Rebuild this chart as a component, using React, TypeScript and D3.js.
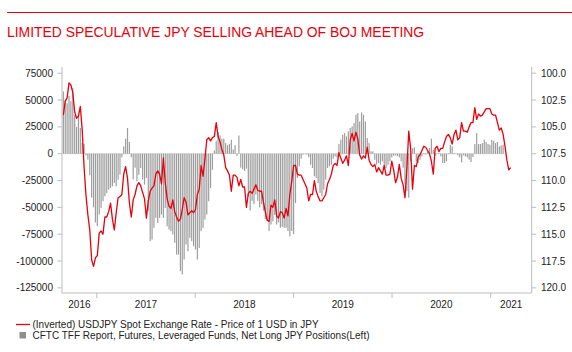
import React from "react";
import * as d3 from "d3";

// CFTC leveraged funds net long JPY (weekly, left axis)
const positions = [
  58000, 50000, 47000, 54000, 49000, 61000, 36000, 25000, 35000, 24000,
  10000, 9000, -1500, -5500, -20000, -41000, -50000, -64000, -67500, -56700,
  -50500, -44300, -39700, -36600, -33500, -32000, -30400, -27300, -30400, -24200,
  -19500, -3400, 6800, 14000, 24000, 11000, -3400, -24000, -13000, -25700,
  -19500, -13300, -24000, -28800, -22600, -53600, -81500, -80000, -69100, -59800,
  -64500, -59800, -56700, -59800, -50500, -67600, -70700, -72200, -75300, -83000,
  -94000, -94000, -109400, -112500, -98600, -84600, -90800, -78400, -81500, -86200,
  -89300, -98600, -87800, -72200, -69100, -61400, -56700, -44300, -32000, -15000,
  3000, 12000, 20000, 17000, 14000, 14000, 10000, 8000, 9000, 13000,
  4000, 8000, -2000, 17000, -13000, -14500, -16000, -14000, -40000, -53000,
  -44000, -47000, -38000, -44000, -50000, -47000, -53000, -61000, -62000, -72000,
  -66000, -63000, -57000, -66000, -64000, -69000, -68000, -69000, -69000, -72000,
  -77000, -72000, -75000, -46000, -22600, -11800, -4700, -900, 300, -900,
  -3400, -10200, -13300, -21000, -22600, -27300, -36600, -39700, -33500, -24200,
  -13300, -11800, -10200, -4700, -2500, -3400, 9000, 13000, 17700, 19200,
  16100, 20800, 23900, 25400, 28500, 36300, 37800, 30000, 38400, 36300,
  30000, 14600, 9900, 2200, 2200, -5600, -10200, -8700, -10200, -7100,
  -11800, -13300, -10200, -7100, -3400, -1900, -1500, -2200, -3400, -7100,
  -13000, -28000, -35000, -41000, -7000, 5000, 6000, -7000, -8700, -5600,
  -2500, 600, -900, 2200, 5300, 14000, 3700, -1500, -300, 600,
  -2500, -8700, -8700, -7100, 600, 8400, 6800, 600, -300, -1500,
  -3400, -8100, -1500, -2500, -3400, -5600, -7800, -3000, 9000, 19200,
  9000, 9000, 9900, 13000, 10900, 9000, 8400, 13000, 12100, 9900,
  10900, 6800, 7800, 8400,
];

// USDJPY spot (weekly, right axis, inverted)
const usdjpy = [
  103.9, 102.6, 102.3, 100.9, 101.1, 101.8, 103.6, 104.2, 104.0, 103.1,
  105.3, 108.8, 111.4, 113.2, 114.6, 117.4, 118.0, 117.2, 117.0, 114.9,
  114.7, 115.0, 113.4, 113.4, 112.9, 112.1, 113.6, 114.6, 113.0, 111.6,
  111.5, 111.3, 109.4, 108.7, 109.8, 112.1, 113.4, 111.8, 111.3, 110.5,
  110.2, 110.5, 111.1, 111.7, 113.5, 111.9, 111.0, 110.7, 110.5, 109.4,
  109.1, 109.4, 110.3, 107.9, 110.2, 111.7, 112.4, 112.6, 111.8, 112.9,
  113.4, 113.8, 113.6, 112.7, 111.6, 112.0, 113.2, 113.0, 112.8, 113.0,
  112.7, 111.3, 110.8, 108.6, 109.6, 108.0, 106.2, 106.0, 106.3, 106.0,
  105.9, 104.6, 105.9, 106.4, 107.1, 107.6, 108.8, 109.1, 109.5, 111.0,
  109.5, 109.5, 109.7, 110.5, 109.9, 110.6, 110.6, 112.5, 111.2, 111.0,
  111.2, 110.8, 110.4, 110.9, 111.0, 111.0, 112.0, 112.9, 113.7, 113.8,
  112.3, 112.5, 111.8, 113.3, 113.5, 112.9, 113.0, 113.5, 112.6, 113.3,
  111.3, 110.1, 108.6, 108.6, 109.4, 109.5, 109.5, 109.9, 110.3, 110.7,
  111.9, 111.3, 111.3, 110.0, 111.0, 111.5, 111.9, 111.9, 111.6, 111.3,
  110.3, 109.9, 109.4, 108.6, 108.4, 108.6, 107.4, 107.9, 108.4, 108.1,
  107.7, 108.6, 106.2, 105.6, 106.3, 105.5, 106.1, 107.6, 108.0, 107.7,
  107.9, 106.9, 108.1, 108.5, 108.7, 108.5, 109.2, 108.8, 109.1, 109.4,
  108.6, 109.5, 109.5, 109.4, 108.2, 109.0, 110.2, 109.7, 108.5, 109.8,
  110.4, 111.6, 108.9, 105.4, 107.0, 110.8, 108.6, 108.7, 107.8, 107.6,
  107.2, 106.8, 106.9, 107.2, 107.5, 108.2, 109.4, 107.0, 106.8, 107.3,
  107.0, 107.0, 106.4, 105.9, 105.7, 106.0, 106.6, 105.7, 105.3, 106.2,
  106.0, 104.6, 105.4, 105.4, 105.5, 105.0, 104.6, 104.6, 103.2, 104.3,
  103.8, 104.0, 103.9, 103.6, 103.3, 103.3, 103.3, 103.8, 103.9, 103.9,
  104.6, 105.3, 105.1, 105.7, 106.8, 108.1, 109.0, 108.8,
];

const leftTicks = [75000, 50000, 25000, 0, -25000, -50000, -75000, -100000, -125000];
const rightTicks = [100, 102.5, 105, 107.5, 110, 112.5, 115, 117.5, 120];
const years = [2016, 2017, 2018, 2019, 2020, 2021];

const RED = "#e8000d";
const AXIS = "#bdbdbd";
const TEXT = "#222";
const FONT = "Liberation Sans, Arial, sans-serif";

const firstWeek = new Date(2016, 7, 30);
const weekDate = (i: number) => d3.timeDay.offset(firstWeek, 7 * i);

export default function App() {
  const W = 572;
  const H = 352;
  const left = 62;
  const right = 531.7;
  const top = 67;
  const bottom = 293;

  const x = d3
    .scaleTime()
    .domain([new Date(2016, 7, 25), new Date(2021, 5, 2)])
    .range([left, right]);
  const yL = d3.scaleLinear().domain([-129800, 80800]).range([bottom, top]);
  const yR = d3.scaleLinear().domain([99.42, 120.48]).range([top, bottom]);

  const line = d3
    .line<number>()
    .x((_, i) => x(weekDate(i)))
    .y((d) => yR(d));

  const barW = 1.2;
  const lastBarX = x(weekDate(positions.length - 1));

  const yearTicks = years.slice(1).map((y) => x(new Date(y, 0, 1)));
  const yearLabels = years.map((y) => {
    const a = Math.max(left, x(new Date(y, 0, 1)));
    const b = Math.min(right, x(new Date(y + 1, 0, 1)));
    return { y, cx: (a + b) / 2 };
  });

  return (
    <svg width={W} height={H} style={{ position: "absolute", left: 0, top: 0, background: "#fff" }} fontFamily={FONT}>
      <line x1={7} x2={W} y1={12.5} y2={12.5} stroke={RED} strokeWidth={1} />
      <text x={7} y={37} fill={RED} fontSize={13.9}>
        LIMITED SPECULATIVE JPY SELLING AHEAD OF BOJ MEETING
      </text>

      {/* bars */}
      <line x1={x(weekDate(0)) - 0.6} x2={lastBarX + 0.6} y1={yL(0)} y2={yL(0)} stroke="#cfcfcf" strokeWidth={0.8} />
      {positions.map((v, i) => (
        <rect
          key={i}
          x={x(weekDate(i)) - barW / 2}
          y={Math.min(yL(v), yL(0))}
          width={barW}
          height={Math.abs(yL(v) - yL(0))}
          fill="#9e9e9e"
        />
      ))}

      {/* usdjpy line */}
      <path d={line(usdjpy) ?? ""} fill="none" stroke={RED} strokeWidth={1.3} strokeLinejoin="round" />

      {/* axes */}
      <line x1={left} x2={left} y1={top} y2={bottom} stroke={AXIS} />
      <line x1={right} x2={right} y1={top} y2={bottom} stroke={AXIS} />
      <line x1={left} x2={right} y1={bottom} y2={bottom} stroke={AXIS} />
      {leftTicks.map((t) => (
        <g key={t}>
          <line x1={left - 4.5} x2={left} y1={yL(t)} y2={yL(t)} stroke={AXIS} />
          <text x={53} y={yL(t) + 3.5} fontSize={10} textAnchor="end" fill={TEXT}>
            {t}
          </text>
        </g>
      ))}
      {rightTicks.map((t) => (
        <g key={t}>
          <line x1={right} x2={right + 4.5} y1={yR(t)} y2={yR(t)} stroke={AXIS} />
          <text x={541} y={yR(t) + 3.5} fontSize={10} fill={TEXT}>
            {t.toFixed(1)}
          </text>
        </g>
      ))}
      {yearTicks.map((tx, i) => (
        <line key={i} x1={tx} x2={tx} y1={bottom} y2={bottom + 5} stroke={AXIS} />
      ))}
      {yearLabels.map((d) => (
        <text key={d.y} x={d.cx} y={307.5} fontSize={10} textAnchor="middle" fill={TEXT}>
          {d.y}
        </text>
      ))}

      {/* legend */}
      <line x1={16} x2={30} y1={324.5} y2={324.5} stroke={RED} strokeWidth={1.3} />
      <text x={32.5} y={328} fontSize={10} fill={TEXT}>
        (Inverted) USDJPY Spot Exchange Rate - Price of 1 USD in JPY
      </text>
      <rect x={19.5} y={332} width={6.5} height={6.5} fill="#8f8f8f" />
      <text x={32.5} y={339} fontSize={10} fill={TEXT}>
        CFTC TFF Report, Futures, Leveraged Funds, Net Long JPY Positions(Left)
      </text>
    </svg>
  );
}
